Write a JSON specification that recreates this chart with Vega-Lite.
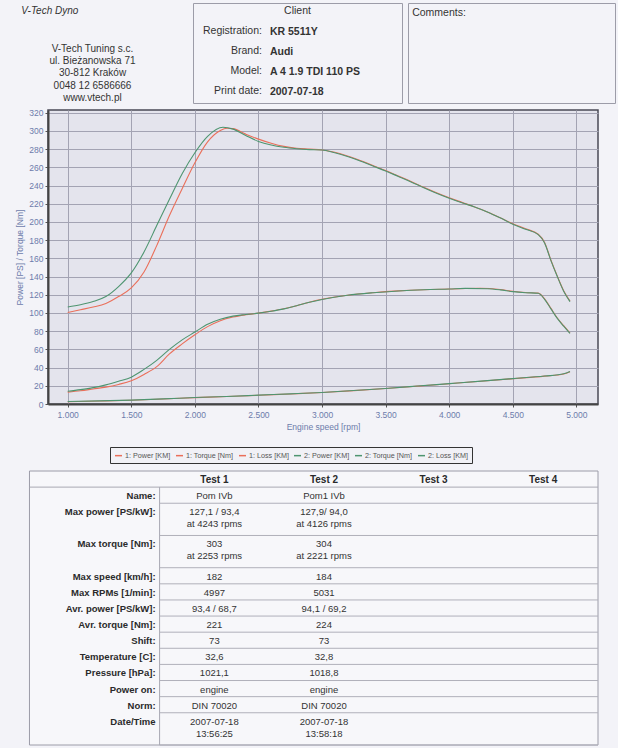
{
  "$schema": "https://vega.github.io/schema/vega-lite/v6.json",
  "background": "#f3f3f8",
  "padding": {"left": 15, "top": 2, "right": 2, "bottom": 2},
  "spacing": 5,
  "resolve": {"legend": {"color": "independent"}},
  "config": {
    "font": "Liberation Sans",
    "view": {"stroke": null}
  },
  "datasets": {
    "client": [
      {"label": "Registration:", "value": "KR 5511Y"},
      {"label": "Brand:", "value": "Audi"},
      {"label": "Model:", "value": "A 4 1.9 TDI 110 PS"},
      {"label": "Print date:", "value": "2007-07-18"}
    ],
    "curves": [
      {"series": "1: Torque [Nm]", "rpm": 1000, "value": 100.5},
      {"series": "1: Torque [Nm]", "rpm": 1100, "value": 103.5},
      {"series": "1: Torque [Nm]", "rpm": 1200, "value": 106.5},
      {"series": "1: Torque [Nm]", "rpm": 1300, "value": 110.5},
      {"series": "1: Torque [Nm]", "rpm": 1400, "value": 118},
      {"series": "1: Torque [Nm]", "rpm": 1500, "value": 127.5},
      {"series": "1: Torque [Nm]", "rpm": 1600, "value": 145},
      {"series": "1: Torque [Nm]", "rpm": 1700, "value": 174},
      {"series": "1: Torque [Nm]", "rpm": 1800, "value": 207},
      {"series": "1: Torque [Nm]", "rpm": 1900, "value": 236.5},
      {"series": "1: Torque [Nm]", "rpm": 2000, "value": 265},
      {"series": "1: Torque [Nm]", "rpm": 2100, "value": 288},
      {"series": "1: Torque [Nm]", "rpm": 2200, "value": 300.5},
      {"series": "1: Torque [Nm]", "rpm": 2253, "value": 303},
      {"series": "1: Torque [Nm]", "rpm": 2300, "value": 302.5},
      {"series": "1: Torque [Nm]", "rpm": 2400, "value": 296.5},
      {"series": "1: Torque [Nm]", "rpm": 2500, "value": 291},
      {"series": "1: Torque [Nm]", "rpm": 2600, "value": 286.5},
      {"series": "1: Torque [Nm]", "rpm": 2700, "value": 283},
      {"series": "1: Torque [Nm]", "rpm": 2800, "value": 281},
      {"series": "1: Torque [Nm]", "rpm": 2900, "value": 280},
      {"series": "1: Torque [Nm]", "rpm": 3000, "value": 279},
      {"series": "1: Torque [Nm]", "rpm": 3100, "value": 276.5},
      {"series": "1: Torque [Nm]", "rpm": 3200, "value": 272.5},
      {"series": "1: Torque [Nm]", "rpm": 3300, "value": 267.5},
      {"series": "1: Torque [Nm]", "rpm": 3400, "value": 262},
      {"series": "1: Torque [Nm]", "rpm": 3500, "value": 256.5},
      {"series": "1: Torque [Nm]", "rpm": 3600, "value": 250.5},
      {"series": "1: Torque [Nm]", "rpm": 3700, "value": 244.5},
      {"series": "1: Torque [Nm]", "rpm": 3800, "value": 238},
      {"series": "1: Torque [Nm]", "rpm": 3900, "value": 232},
      {"series": "1: Torque [Nm]", "rpm": 4000, "value": 226.5},
      {"series": "1: Torque [Nm]", "rpm": 4100, "value": 221.5},
      {"series": "1: Torque [Nm]", "rpm": 4200, "value": 216.5},
      {"series": "1: Torque [Nm]", "rpm": 4300, "value": 211},
      {"series": "1: Torque [Nm]", "rpm": 4400, "value": 204.5},
      {"series": "1: Torque [Nm]", "rpm": 4500, "value": 198},
      {"series": "1: Torque [Nm]", "rpm": 4600, "value": 192.5},
      {"series": "1: Torque [Nm]", "rpm": 4700, "value": 186.5},
      {"series": "1: Torque [Nm]", "rpm": 4750, "value": 177.5},
      {"series": "1: Torque [Nm]", "rpm": 4800, "value": 158},
      {"series": "1: Torque [Nm]", "rpm": 4850, "value": 140.5},
      {"series": "1: Torque [Nm]", "rpm": 4900, "value": 124.5},
      {"series": "1: Torque [Nm]", "rpm": 4950, "value": 113},
      {"series": "1: Power [KM]", "rpm": 1000, "value": 13},
      {"series": "1: Power [KM]", "rpm": 1100, "value": 14.5},
      {"series": "1: Power [KM]", "rpm": 1200, "value": 16.5},
      {"series": "1: Power [KM]", "rpm": 1300, "value": 18.5},
      {"series": "1: Power [KM]", "rpm": 1400, "value": 21.5},
      {"series": "1: Power [KM]", "rpm": 1500, "value": 25.5},
      {"series": "1: Power [KM]", "rpm": 1600, "value": 32.5},
      {"series": "1: Power [KM]", "rpm": 1700, "value": 41},
      {"series": "1: Power [KM]", "rpm": 1800, "value": 55},
      {"series": "1: Power [KM]", "rpm": 1900, "value": 66},
      {"series": "1: Power [KM]", "rpm": 2000, "value": 76},
      {"series": "1: Power [KM]", "rpm": 2100, "value": 85},
      {"series": "1: Power [KM]", "rpm": 2200, "value": 91.5},
      {"series": "1: Power [KM]", "rpm": 2300, "value": 95.5},
      {"series": "1: Power [KM]", "rpm": 2400, "value": 98},
      {"series": "1: Power [KM]", "rpm": 2500, "value": 99.8},
      {"series": "1: Power [KM]", "rpm": 2600, "value": 102},
      {"series": "1: Power [KM]", "rpm": 2700, "value": 104.6},
      {"series": "1: Power [KM]", "rpm": 2800, "value": 108},
      {"series": "1: Power [KM]", "rpm": 2900, "value": 111.8},
      {"series": "1: Power [KM]", "rpm": 3000, "value": 115},
      {"series": "1: Power [KM]", "rpm": 3200, "value": 119.5},
      {"series": "1: Power [KM]", "rpm": 3400, "value": 122.3},
      {"series": "1: Power [KM]", "rpm": 3600, "value": 124.3},
      {"series": "1: Power [KM]", "rpm": 3800, "value": 125.6},
      {"series": "1: Power [KM]", "rpm": 4000, "value": 126.3},
      {"series": "1: Power [KM]", "rpm": 4243, "value": 127.1},
      {"series": "1: Power [KM]", "rpm": 4400, "value": 125.8},
      {"series": "1: Power [KM]", "rpm": 4500, "value": 123.8},
      {"series": "1: Power [KM]", "rpm": 4600, "value": 122.5},
      {"series": "1: Power [KM]", "rpm": 4700, "value": 121.8},
      {"series": "1: Power [KM]", "rpm": 4750, "value": 115.5},
      {"series": "1: Power [KM]", "rpm": 4800, "value": 105},
      {"series": "1: Power [KM]", "rpm": 4850, "value": 94.5},
      {"series": "1: Power [KM]", "rpm": 4900, "value": 86},
      {"series": "1: Power [KM]", "rpm": 4950, "value": 78},
      {"series": "1: Loss [KM]", "rpm": 1000, "value": 2.5},
      {"series": "1: Loss [KM]", "rpm": 1250, "value": 3.3},
      {"series": "1: Loss [KM]", "rpm": 1500, "value": 4.2},
      {"series": "1: Loss [KM]", "rpm": 1750, "value": 5.5},
      {"series": "1: Loss [KM]", "rpm": 2000, "value": 7},
      {"series": "1: Loss [KM]", "rpm": 2250, "value": 8.2},
      {"series": "1: Loss [KM]", "rpm": 2500, "value": 9.6},
      {"series": "1: Loss [KM]", "rpm": 2750, "value": 11},
      {"series": "1: Loss [KM]", "rpm": 3000, "value": 12.6},
      {"series": "1: Loss [KM]", "rpm": 3250, "value": 14.7},
      {"series": "1: Loss [KM]", "rpm": 3500, "value": 17},
      {"series": "1: Loss [KM]", "rpm": 3750, "value": 19.6},
      {"series": "1: Loss [KM]", "rpm": 4000, "value": 22.3},
      {"series": "1: Loss [KM]", "rpm": 4250, "value": 25},
      {"series": "1: Loss [KM]", "rpm": 4500, "value": 27.8},
      {"series": "1: Loss [KM]", "rpm": 4750, "value": 30.6},
      {"series": "1: Loss [KM]", "rpm": 4900, "value": 33},
      {"series": "1: Loss [KM]", "rpm": 4950, "value": 35.5},
      {"series": "2: Torque [Nm]", "rpm": 1000, "value": 106.5},
      {"series": "2: Torque [Nm]", "rpm": 1100, "value": 109},
      {"series": "2: Torque [Nm]", "rpm": 1200, "value": 112.5},
      {"series": "2: Torque [Nm]", "rpm": 1300, "value": 118},
      {"series": "2: Torque [Nm]", "rpm": 1400, "value": 129},
      {"series": "2: Torque [Nm]", "rpm": 1500, "value": 144},
      {"series": "2: Torque [Nm]", "rpm": 1600, "value": 167},
      {"series": "2: Torque [Nm]", "rpm": 1700, "value": 196},
      {"series": "2: Torque [Nm]", "rpm": 1800, "value": 225},
      {"series": "2: Torque [Nm]", "rpm": 1900, "value": 253},
      {"series": "2: Torque [Nm]", "rpm": 2000, "value": 276},
      {"series": "2: Torque [Nm]", "rpm": 2100, "value": 294},
      {"series": "2: Torque [Nm]", "rpm": 2221, "value": 304},
      {"series": "2: Torque [Nm]", "rpm": 2300, "value": 302},
      {"series": "2: Torque [Nm]", "rpm": 2400, "value": 295},
      {"series": "2: Torque [Nm]", "rpm": 2500, "value": 288.5},
      {"series": "2: Torque [Nm]", "rpm": 2600, "value": 284.5},
      {"series": "2: Torque [Nm]", "rpm": 2700, "value": 282},
      {"series": "2: Torque [Nm]", "rpm": 2800, "value": 280.5},
      {"series": "2: Torque [Nm]", "rpm": 2900, "value": 279.5},
      {"series": "2: Torque [Nm]", "rpm": 3000, "value": 279},
      {"series": "2: Torque [Nm]", "rpm": 3100, "value": 276},
      {"series": "2: Torque [Nm]", "rpm": 3200, "value": 272},
      {"series": "2: Torque [Nm]", "rpm": 3300, "value": 267},
      {"series": "2: Torque [Nm]", "rpm": 3400, "value": 261.5},
      {"series": "2: Torque [Nm]", "rpm": 3500, "value": 256},
      {"series": "2: Torque [Nm]", "rpm": 3600, "value": 250},
      {"series": "2: Torque [Nm]", "rpm": 3700, "value": 244},
      {"series": "2: Torque [Nm]", "rpm": 3800, "value": 237.5},
      {"series": "2: Torque [Nm]", "rpm": 3900, "value": 231.5},
      {"series": "2: Torque [Nm]", "rpm": 4000, "value": 226},
      {"series": "2: Torque [Nm]", "rpm": 4100, "value": 221},
      {"series": "2: Torque [Nm]", "rpm": 4200, "value": 216.5},
      {"series": "2: Torque [Nm]", "rpm": 4300, "value": 211},
      {"series": "2: Torque [Nm]", "rpm": 4400, "value": 204.5},
      {"series": "2: Torque [Nm]", "rpm": 4500, "value": 197.5},
      {"series": "2: Torque [Nm]", "rpm": 4600, "value": 192},
      {"series": "2: Torque [Nm]", "rpm": 4700, "value": 186},
      {"series": "2: Torque [Nm]", "rpm": 4750, "value": 177},
      {"series": "2: Torque [Nm]", "rpm": 4800, "value": 157.5},
      {"series": "2: Torque [Nm]", "rpm": 4850, "value": 140},
      {"series": "2: Torque [Nm]", "rpm": 4900, "value": 124},
      {"series": "2: Torque [Nm]", "rpm": 4950, "value": 112.5},
      {"series": "2: Power [KM]", "rpm": 1000, "value": 14},
      {"series": "2: Power [KM]", "rpm": 1100, "value": 15.8},
      {"series": "2: Power [KM]", "rpm": 1200, "value": 18},
      {"series": "2: Power [KM]", "rpm": 1300, "value": 21},
      {"series": "2: Power [KM]", "rpm": 1400, "value": 25},
      {"series": "2: Power [KM]", "rpm": 1500, "value": 29.5},
      {"series": "2: Power [KM]", "rpm": 1600, "value": 38},
      {"series": "2: Power [KM]", "rpm": 1700, "value": 48},
      {"series": "2: Power [KM]", "rpm": 1800, "value": 60},
      {"series": "2: Power [KM]", "rpm": 1900, "value": 70.5},
      {"series": "2: Power [KM]", "rpm": 2000, "value": 79},
      {"series": "2: Power [KM]", "rpm": 2100, "value": 87.5},
      {"series": "2: Power [KM]", "rpm": 2200, "value": 93},
      {"series": "2: Power [KM]", "rpm": 2300, "value": 96.5},
      {"series": "2: Power [KM]", "rpm": 2400, "value": 98.3},
      {"series": "2: Power [KM]", "rpm": 2500, "value": 99.8},
      {"series": "2: Power [KM]", "rpm": 2600, "value": 101.9},
      {"series": "2: Power [KM]", "rpm": 2700, "value": 104.5},
      {"series": "2: Power [KM]", "rpm": 2800, "value": 108},
      {"series": "2: Power [KM]", "rpm": 2900, "value": 111.7},
      {"series": "2: Power [KM]", "rpm": 3000, "value": 114.8},
      {"series": "2: Power [KM]", "rpm": 3200, "value": 119.4},
      {"series": "2: Power [KM]", "rpm": 3400, "value": 122.2},
      {"series": "2: Power [KM]", "rpm": 3600, "value": 124.2},
      {"series": "2: Power [KM]", "rpm": 3800, "value": 125.6},
      {"series": "2: Power [KM]", "rpm": 4000, "value": 126.4},
      {"series": "2: Power [KM]", "rpm": 4126, "value": 127},
      {"series": "2: Power [KM]", "rpm": 4300, "value": 126.6},
      {"series": "2: Power [KM]", "rpm": 4400, "value": 125.4},
      {"series": "2: Power [KM]", "rpm": 4500, "value": 123.5},
      {"series": "2: Power [KM]", "rpm": 4600, "value": 122.3},
      {"series": "2: Power [KM]", "rpm": 4700, "value": 121.6},
      {"series": "2: Power [KM]", "rpm": 4750, "value": 115},
      {"series": "2: Power [KM]", "rpm": 4800, "value": 104.5},
      {"series": "2: Power [KM]", "rpm": 4850, "value": 94},
      {"series": "2: Power [KM]", "rpm": 4900, "value": 85.5},
      {"series": "2: Power [KM]", "rpm": 4950, "value": 77.5},
      {"series": "2: Loss [KM]", "rpm": 1000, "value": 2.7},
      {"series": "2: Loss [KM]", "rpm": 1250, "value": 3.4},
      {"series": "2: Loss [KM]", "rpm": 1500, "value": 4.3},
      {"series": "2: Loss [KM]", "rpm": 1750, "value": 5.6},
      {"series": "2: Loss [KM]", "rpm": 2000, "value": 7.1},
      {"series": "2: Loss [KM]", "rpm": 2250, "value": 8.3},
      {"series": "2: Loss [KM]", "rpm": 2500, "value": 9.7},
      {"series": "2: Loss [KM]", "rpm": 2750, "value": 11.1},
      {"series": "2: Loss [KM]", "rpm": 3000, "value": 12.7},
      {"series": "2: Loss [KM]", "rpm": 3250, "value": 14.8},
      {"series": "2: Loss [KM]", "rpm": 3500, "value": 17.1},
      {"series": "2: Loss [KM]", "rpm": 3750, "value": 19.7},
      {"series": "2: Loss [KM]", "rpm": 4000, "value": 22.4},
      {"series": "2: Loss [KM]", "rpm": 4250, "value": 25.1},
      {"series": "2: Loss [KM]", "rpm": 4500, "value": 27.9},
      {"series": "2: Loss [KM]", "rpm": 4750, "value": 30.7},
      {"series": "2: Loss [KM]", "rpm": 4900, "value": 33.2},
      {"series": "2: Loss [KM]", "rpm": 4950, "value": 35.8}
    ],
    "tests": [
      {"n": 1, "name": "Test 1"},
      {"n": 2, "name": "Test 2"},
      {"n": 3, "name": "Test 3"},
      {"n": 4, "name": "Test 4"}
    ],
    "table": [
      {"param": "Name:", "lines": 1, "t1": "Pom IVb", "t2": "Pom1 IVb"},
      {"param": "Max power [PS/kW]:", "lines": 2, "t1": "127,1 / 93,4\nat 4243 rpms", "t2": "127,9/ 94,0\nat 4126 rpms"},
      {"param": "Max torque [Nm]:", "lines": 2, "t1": "303\nat 2253 rpms", "t2": "304\nat 2221 rpms"},
      {"param": "Max speed [km/h]:", "lines": 1, "t1": "182", "t2": "184"},
      {"param": "Max RPMs [1/min]:", "lines": 1, "t1": "4997", "t2": "5031"},
      {"param": "Avr. power [PS/kW]:", "lines": 1, "t1": "93,4 / 68,7", "t2": "94,1 / 69,2"},
      {"param": "Avr. torque [Nm]:", "lines": 1, "t1": "221", "t2": "224"},
      {"param": "Shift:", "lines": 1, "t1": "73", "t2": "73"},
      {"param": "Temperature [C]:", "lines": 1, "t1": "32,6", "t2": "32,8"},
      {"param": "Pressure [hPa]:", "lines": 1, "t1": "1021,1", "t2": "1018,8"},
      {"param": "Power on:", "lines": 1, "t1": "engine", "t2": "engine"},
      {"param": "Norm:", "lines": 1, "t1": "DIN 70020", "t2": "DIN 70020"},
      {"param": "Date/Time", "lines": 2, "t1": "2007-07-18\n13:56:25", "t2": "2007-07-18\n13:58:18"}
    ]
  },
  "vconcat": [
    {
      "spacing": 3,
      "resolve": {"legend": {"color": "independent"}},
      "vconcat": [
        {
          "spacing": 55,
          "hconcat": [
            {
              "width": 89,
              "height": 100,
              "layer": [
                {
                  "data": {"values": [{"t": "V-Tech Dyno"}]},
                  "mark": {"type": "text", "align": "left", "baseline": "top", "fontStyle": "italic", "fontSize": 10, "color": "#333"},
                  "encoding": {
                    "text": {"field": "t"},
                    "x": {"datum": -0.3, "type": "quantitative", "scale": {"domain": [0, 1]}, "axis": null},
                    "y": {"datum": 0.03, "type": "quantitative", "scale": {"domain": [0, 1], "reverse": true}, "axis": null}
                  }
                },
                {
                  "data": {"values": [{"t": "V-Tech Tuning s.c.\nul. Bieżanowska 71\n30-812 Kraków\n0048 12 6586666\nwww.vtech.pl"}]},
                  "mark": {"type": "text", "align": "center", "baseline": "middle", "lineBreak": "\n", "lineHeight": 12.2, "fontSize": 10, "color": "#333"},
                  "encoding": {
                    "text": {"field": "t"},
                    "x": {"datum": 0.5, "type": "quantitative", "scale": {"domain": [0, 1]}, "axis": null},
                    "y": {"datum": 0.46, "type": "quantitative", "scale": {"domain": [0, 1], "reverse": true}, "axis": null}
                  }
                }
              ]
            },
            {
              "spacing": 4,
              "hconcat": [
                {
                  "width": 209,
                  "height": 100,
                  "view": {"stroke": "#9c9ca8", "strokeWidth": 1},
                  "layer": [
                    {
                      "data": {"values": [{"t": "Client"}]},
                      "mark": {"type": "text", "fontSize": 10.5, "color": "#333", "dy": -2},
                      "encoding": {
                        "text": {"field": "t"},
                        "x": {"datum": 0.5, "type": "quantitative", "scale": {"domain": [0, 1]}, "axis": null},
                        "y": {"field": "t", "type": "nominal", "scale": {"domain": ["Client", "Registration:", "Brand:", "Model:", "Print date:"], "paddingInner": 0, "paddingOuter": 0.06}, "axis": null}
                      }
                    },
                    {
                      "data": {"name": "client"},
                      "mark": {"type": "text", "align": "right", "fontSize": 10.5, "color": "#333", "dy": -2},
                      "encoding": {
                        "text": {"field": "label"},
                        "x": {"datum": 0.33, "type": "quantitative", "scale": {"domain": [0, 1]}, "axis": null},
                        "y": {"field": "label", "type": "nominal", "scale": {"domain": ["Client", "Registration:", "Brand:", "Model:", "Print date:"], "paddingInner": 0, "paddingOuter": 0.06}, "axis": null}
                      }
                    },
                    {
                      "data": {"name": "client"},
                      "mark": {"type": "text", "align": "left", "fontSize": 10.5, "fontWeight": "bold", "color": "#333", "dy": -1},
                      "encoding": {
                        "text": {"field": "value"},
                        "x": {"datum": 0.368, "type": "quantitative", "scale": {"domain": [0, 1]}, "axis": null},
                        "y": {"field": "label", "type": "nominal", "scale": {"domain": ["Client", "Registration:", "Brand:", "Model:", "Print date:"], "paddingInner": 0, "paddingOuter": 0.06}, "axis": null}
                      }
                    }
                  ]
                },
                {
                  "width": 207,
                  "height": 100,
                  "view": {"stroke": "#9c9ca8", "strokeWidth": 1},
                  "data": {"values": [{"t": "Comments:"}]},
                  "mark": {"type": "text", "align": "left", "baseline": "top", "fontSize": 10.5, "color": "#333"},
                  "encoding": {
                    "text": {"field": "t"},
                    "x": {"datum": 0.02, "type": "quantitative", "scale": {"domain": [0, 1]}, "axis": null},
                    "y": {"datum": 0.045, "type": "quantitative", "scale": {"domain": [0, 1], "reverse": true}, "axis": null}
                  }
                }
              ]
            }
          ]
        },
        {
          "width": 550,
          "height": 294,
          "view": {"stroke": "#4a4a55", "strokeWidth": 1.5, "fill": "#e4e4ed"},
          "data": {"name": "curves"},
          "mark": {"type": "line", "strokeWidth": 1.1, "interpolate": "monotone"},
          "encoding": {
            "x": {
              "field": "rpm",
              "type": "quantitative",
              "scale": {"domain": [845, 5170], "nice": false, "zero": false},
              "axis": {
                "values": [1000, 1500, 2000, 2500, 3000, 3500, 4000, 4500, 5000],
                "labelExpr": "replace(format(datum.value, ','), ',', '.')",
                "title": "Engine speed [rpm]",
                "grid": true,
                "gridColor": "#a3a3b3",
                "gridWidth": 1,
                "labelColor": "#6d7cab",
                "titleColor": "#6d7cab",
                "labelFontSize": 8.5,
                "titleFontSize": 8.5,
                "titleFontWeight": "normal",
                "domainColor": "#444",
                "domainWidth": 2,
                "tickColor": "#555",
                "tickSize": 3,
                "labelPadding": 3,
                "titlePadding": 4
              }
            },
            "y": {
              "field": "value",
              "type": "quantitative",
              "scale": {"domain": [0, 323], "nice": false},
              "axis": {
                "values": [0, 20, 40, 60, 80, 100, 120, 140, 160, 180, 200, 220, 240, 260, 280, 300, 320],
                "title": "Power [PS] / Torque [Nm]",
                "grid": true,
                "gridColor": "#a3a3b3",
                "gridWidth": 1,
                "labelColor": "#6d7cab",
                "titleColor": "#6d7cab",
                "labelFontSize": 8.5,
                "titleFontSize": 8.5,
                "titleFontWeight": "normal",
                "domainColor": "#444",
                "domainWidth": 2,
                "tickColor": "#555",
                "tickSize": 3,
                "labelPadding": 2,
                "titlePadding": 4
              }
            },
            "color": {
              "field": "series",
              "type": "nominal",
              "scale": {
                "domain": ["1: Power [KM]", "1: Torque [Nm]", "1: Loss [KM]", "2: Power [KM]", "2: Torque [Nm]", "2: Loss [KM]"],
                "range": ["#ea6f5a", "#ea6f5a", "#ea6f5a", "#4e9570", "#4e9570", "#4e9570"]
              },
              "legend": {
                "orient": "none",
                "legendX": 62,
                "legendY": 337,
                "direction": "horizontal",
                "columns": 6,
                "title": null,
                "symbolType": "stroke",
                "symbolSize": 49,
                "symbolStrokeWidth": 1.5,
                "labelFontSize": 7.2,
                "labelColor": "#555",
                "labelOffset": 2,
                "columnPadding": 2,
                "strokeColor": "#333",
                "fillColor": "#f1f1f6",
                "padding": 4
              }
            }
          }
        }
      ]
    },
    {
      "width": 550,
      "height": 274,
      "data": {"name": "table"},
      "transform": [
        {"stack": "lines", "groupby": [], "as": ["start", "end"]}
      ],
      "layer": [
        {
          "data": {"values": [{}]},
          "mark": {"type": "rect", "fill": "#f7f7fa", "stroke": "#9c9ca8", "strokeWidth": 1},
          "encoding": {
            "x": {"datum": -0.687, "type": "quantitative", "scale": {"domain": [-0.518, 4.5], "nice": false, "zero": false}, "axis": null},
            "x2": {"datum": 4.5},
            "y": {"datum": -1, "type": "quantitative", "scale": {"domain": [-1, 16], "reverse": true, "nice": false, "zero": false}, "axis": null},
            "y2": {"datum": 16}
          }
        },
        {
          "data": {"values": [{}]},
          "mark": {"type": "rule", "color": "#a8a8b2", "strokeWidth": 1},
          "encoding": {
            "x": {"datum": -0.687, "type": "quantitative"},
            "x2": {"datum": 4.5},
            "y": {"datum": 0, "type": "quantitative"}
          }
        },
        {
          "data": {"values": [{}]},
          "mark": {"type": "rule", "color": "#a8a8b2", "strokeWidth": 1},
          "encoding": {
            "x": {"datum": 0.5, "type": "quantitative"},
            "y": {"datum": 0, "type": "quantitative"},
            "y2": {"datum": 16}
          }
        },
        {
          "mark": {"type": "rule", "color": "#b0b0ba", "strokeWidth": 1},
          "encoding": {
            "x": {"datum": 0.5, "type": "quantitative"},
            "x2": {"datum": 4.5},
            "y": {"field": "end", "type": "quantitative"}
          }
        },
        {
          "mark": {"type": "text", "align": "right", "baseline": "top", "fontSize": 9.5, "fontWeight": "bold", "color": "#2a2a2a", "dx": -4, "dy": 4},
          "encoding": {
            "text": {"field": "param"},
            "x": {"datum": 0.5, "type": "quantitative"},
            "y": {"field": "start", "type": "quantitative"}
          }
        },
        {
          "mark": {"type": "text", "align": "center", "baseline": "top", "fontSize": 9.5, "color": "#333", "lineBreak": "\n", "lineHeight": 12, "dy": 4},
          "encoding": {
            "text": {"field": "t1"},
            "x": {"datum": 1, "type": "quantitative"},
            "y": {"field": "start", "type": "quantitative"}
          }
        },
        {
          "mark": {"type": "text", "align": "center", "baseline": "top", "fontSize": 9.5, "color": "#333", "lineBreak": "\n", "lineHeight": 12, "dy": 4},
          "encoding": {
            "text": {"field": "t2"},
            "x": {"datum": 2, "type": "quantitative"},
            "y": {"field": "start", "type": "quantitative"}
          }
        },
        {
          "data": {"name": "tests"},
          "mark": {"type": "text", "align": "center", "baseline": "top", "fontSize": 10, "fontWeight": "bold", "color": "#2a2a2a", "dy": 4},
          "encoding": {
            "text": {"field": "name"},
            "x": {"field": "n", "type": "quantitative"},
            "y": {"datum": -1, "type": "quantitative"}
          }
        }
      ]
    }
  ]
}
